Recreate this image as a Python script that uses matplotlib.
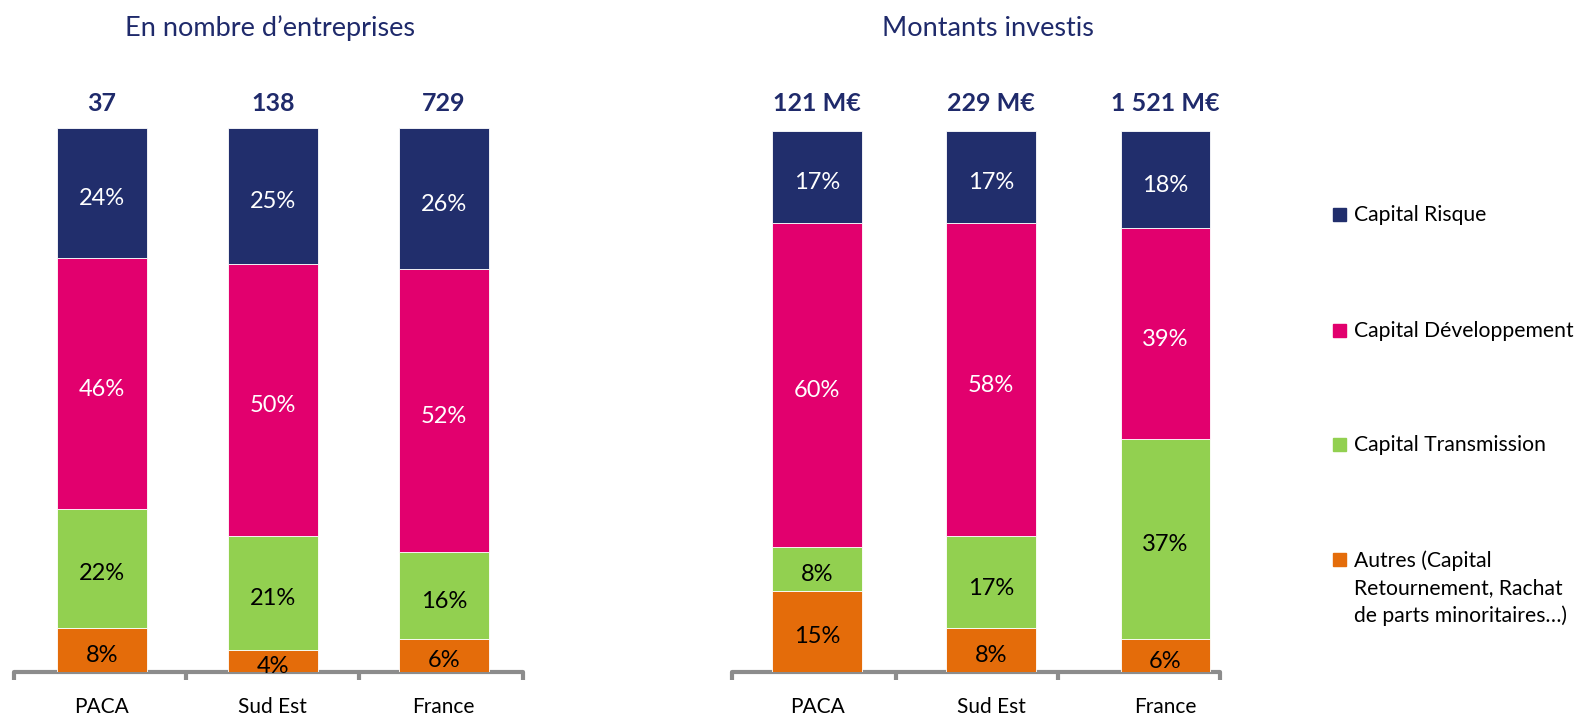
import numpy as np
import matplotlib.pyplot as plt
from matplotlib.patches import Rectangle

plt.rcParams['font.family'] = ['Lato', 'DejaVu Sans']

categories = ['PACA', 'Sud Est', 'France']
series = ['Capital Risque', 'Capital Développement', 'Capital Transmission',
          'Autres (Capital\nRetournement, Rachat\nde parts minoritaires…)']

# bottom to top: Autres, Transmission, Developpement, Risque
nb_autres = [8, 4, 6]
nb_transmission = [22, 21, 16]
nb_developpement = [46, 50, 52]
nb_risque = [24, 25, 26]
nb_totals = ['37', '138', '729']

mt_autres = [15, 8, 6]
mt_transmission = [8, 17, 37]
mt_developpement = [60, 58, 39]
mt_risque = [17, 17, 18]
mt_totals = ['121 M€', '229 M€', '1 521 M€']

colors = ['#212E6C', '#E2006E', '#92D050', '#E46C0A']   # risque, dev, trans, autres
text_colors = ['white', 'white', 'black', 'black']
title_color = '#1F2A6B'
axis_gray = '#8C8C8C'

W, H = 1578, 717
sx, sy = W / 1568, H / 712   # layout measured on a 1568x712 view
fig = plt.figure(figsize=(W / 100, H / 100), dpi=100)


def fx(x):
    return x * sx / W


def fy(y):
    return 1 - y * sy / H


def px_axes(x0, x1, ytop, ybase):
    return fig.add_axes([fx(x0), fy(ybase), fx(x1) - fx(x0), fy(ytop) - fy(ybase)])


def draw_panel(ax, stacks, totals, xlim, bounds, width, tot_offset):
    x = np.arange(len(categories))
    bottom = np.zeros(len(categories))
    # stacks given top-to-bottom in legend order, draw bottom first
    for i in [3, 2, 1, 0]:
        vals = np.array(stacks[i], dtype=float)
        ax.bar(x, vals, width, bottom=bottom, color=colors[i],
               edgecolor='white', linewidth=0.6, zorder=3)
        for xi, b, v in zip(x, bottom, vals):
            ax.annotate(f'{int(v)}%', (xi, b + v / 2), xytext=(0, -4),
                        textcoords='offset points', ha='center', va='center',
                        fontsize=17, color=text_colors[i], zorder=4)
        bottom += vals
    for xi, t in zip(x, totals):
        ax.annotate(t, (xi, 100), xytext=(0, tot_offset), textcoords='offset points',
                    ha='center', va='center', fontsize=18, fontweight='bold',
                    color=title_color)
    ax.set_ylim(0, 100)
    ax.set_xlim(*xlim)
    ax.set_yticks([])
    for s in ['top', 'right', 'left']:
        ax.spines[s].set_visible(False)
    ax.spines['bottom'].set_color(axis_gray)
    ax.spines['bottom'].set_linewidth(3)
    ax.spines['bottom'].set_capstyle('round')
    ax.set_xticks(x, categories)
    ax.set_xticks(bounds, minor=True)
    ax.tick_params(axis='x', which='major', length=0, pad=18, labelsize=15)
    ax.tick_params(axis='x', which='minor', length=6, width=3, color=axis_gray,
                   direction='out')


ax1 = px_axes(14, 520, 127, 667)
draw_panel(ax1, [nb_risque, nb_developpement, nb_transmission, nb_autres],
           nb_totals, (-0.512, 2.465), [-0.512, 0.494, 1.506, 2.465], 0.525, 17.5)

ax2 = px_axes(727, 1212, 130, 667)
draw_panel(ax2, [mt_risque, mt_developpement, mt_transmission, mt_autres],
           mt_totals, (-0.491, 2.312), [-0.491, 0.451, 1.382, 2.312], 0.515, 19.5)

fig.text(fx(268), fy(28), 'En nombre d’entreprises', ha='center', va='center',
         fontsize=19.5, color=title_color)
fig.text(fx(982), fy(28), 'Montants investis', ha='center', va='center',
         fontsize=19.5, color=title_color)

# legend
leg_y = [213, 328, 441, 556]
for name, c, yc in zip(series, colors, leg_y):
    fig.add_artist(Rectangle((fx(1325), fy(yc + 6.5)), 13 / W, 13 / H,
                             transform=fig.transFigure, color=c))
    fig.text(fx(1345), fy(yc - 9), name, ha='left', va='top',
             fontsize=15.2, color='black', linespacing=1.44)

fig.savefig('out.png', dpi=100)
